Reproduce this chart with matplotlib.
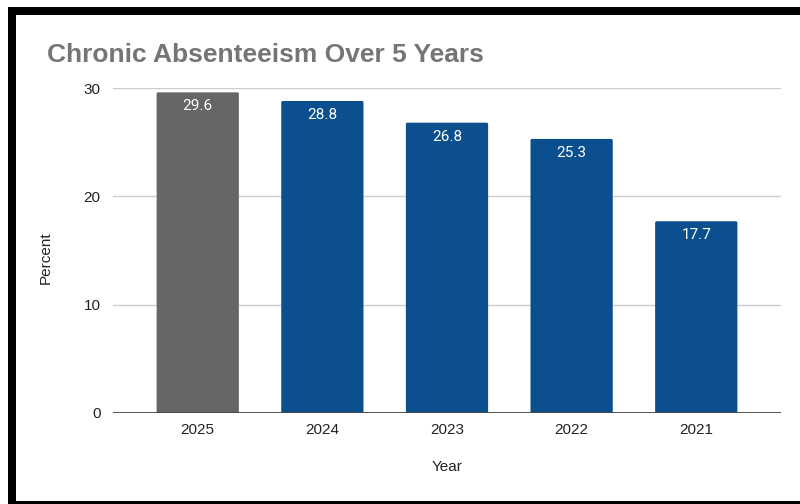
import matplotlib
matplotlib.use("Agg")
import matplotlib.pyplot as plt
from matplotlib.patches import Rectangle, FancyBboxPatch

years = ["2025", "2024", "2023", "2022", "2021"]
values = [29.6, 28.8, 26.8, 25.3, 17.7]
colors = ["#666666", "#0b4f8f", "#0b4f8f", "#0b4f8f", "#0b4f8f"]
yticks = [0, 10, 20, 30]

W, H = 800, 504
fig = plt.figure(figsize=(W / 100, H / 100), dpi=100)
fig.patch.set_facecolor("white")

def fx(px):
    return px / W

def fy(py):
    return 1 - py / H

ax = fig.add_axes([fx(113), fy(413), fx(781) - fx(113), fy(88) - fy(413)])
ax.set_xlim(-0.68, 4.68)
ax.set_ylim(0, 30)

bw = 0.66
for i, (v, c) in enumerate(zip(values, colors)):
    p = FancyBboxPatch((i - bw / 2, 0), bw, v,
                       boxstyle="round,pad=0,rounding_size=0.012",
                       mutation_aspect=30 / 325 * 124.7,
                       facecolor=c, edgecolor="none", zorder=3)
    ax.add_patch(p)
    ax.text(i, v - 1.3, f"{v:.1f}", ha="center", va="center", color="white",
            fontsize=11, family="Roboto", zorder=4)

for s in ax.spines.values():
    s.set_visible(False)
ax.set_yticks(yticks)
ax.set_yticklabels([str(t) for t in yticks], fontsize=11, family="Liberation Sans", color="#222222")
ax.set_xticks(range(len(years)))
ax.set_xticklabels(years, fontsize=11, family="Liberation Sans", color="#222222")
ax.tick_params(axis="both", length=0)
ax.tick_params(axis="y", pad=9)
ax.tick_params(axis="x", pad=7)
for t in yticks[1:]:
    ax.axhline(t, color="#cccccc", lw=1, zorder=1)
ax.axhline(0, color="#444444", lw=1.3, zorder=5)

fig.text(fx(447), fy(467), "Year", ha="center", va="center", fontsize=11,
         family="Liberation Sans", color="#222222")
fig.text(fx(46), fy(258), "Percent", ha="center", va="center", rotation=90,
         fontsize=11, family="Liberation Sans", color="#222222")
fig.text(fx(47), fy(62), "Chronic Absenteeism Over 5 Years", ha="left", va="baseline",
         fontsize=19, fontweight="bold", family="Liberation Sans", color="#757575")

# black frame
fig.patches.append(Rectangle((fx(8), fy(15)), 1 - fx(8), fy(7) - fy(15),
                             transform=fig.transFigure, facecolor="black", edgecolor="none"))
fig.patches.append(Rectangle((fx(8), 0), fx(16) - fx(8), fy(7),
                             transform=fig.transFigure, facecolor="black", edgecolor="none"))
fig.patches.append(Rectangle((fx(8), 0), 1 - fx(8), fy(501),
                             transform=fig.transFigure, facecolor="black", edgecolor="none"))

fig.savefig("out.png", dpi=100)
